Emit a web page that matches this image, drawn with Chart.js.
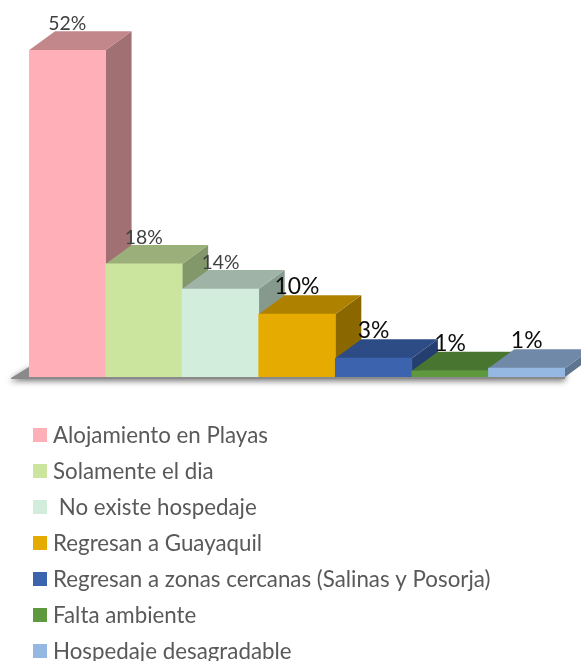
<!DOCTYPE html>
<html>
<head>
<meta charset="utf-8">
<script src="https://cdn.jsdelivr.net/npm/chart.js@4.4.1/dist/chart.umd.min.js"></script>
<style>
  html, body { margin: 0; padding: 0; background: #fff; }
  #wrap { width: 581px; height: 661px; }
</style>
</head>
<body>
<div id="wrap"><canvas id="c" width="581" height="661"></canvas></div>
<script>
const categories = [
  "Alojamiento en Playas",
  "Solamente el dia",
  " No existe hospedaje",
  "Regresan a Guayaquil",
  "Regresan a zonas cercanas (Salinas y Posorja)",
  "Falta ambiente",
  "Hospedaje desagradable"
];
const values = [52, 18, 14, 10, 3, 1.0, 1.4];
const valueLabels = ["52%", "18%", "14%", "10%", "3%", "1%", "1%"];

const frontColors = ["#FFAFB7", "#CBE59F", "#D2EDDC", "#E5AB00", "#3B63AE", "#5E9A3D", "#95B8E2"];
const topColors   = ["#C2878B", "#9AAF79", "#9FB3A7", "#AE8200", "#2D4C85", "#487631", "#7189A9"];
const sideColors  = ["#A07072", "#82976A", "#86998D", "#8B6700", "#243F6F", "#3B6228", "#5E7590"];
const labelColors = ["#404040", "#404040", "#404040", "#0d0d0d", "#0d0d0d", "#0d0d0d", "#0d0d0d"];
const labelLarge  = [false, false, false, true, true, true, true];

const DX = 26, DY = 19;
const FONT = 'Lato, "Open Sans", sans-serif';

function fitFont(ctx, text, targetWidth) {
  ctx.font = '20px ' + FONT;
  const w = ctx.measureText(text).width;
  return 20 * targetWidth / w;
}

const bars3d = {
  id: 'bars3d',
  beforeDatasetsDraw(chart) {
    const ctx = chart.ctx;
    const els = chart.getDatasetMeta(0).data;
    const base = els[0].base;
    const left = els[0].x - els[0].width / 2;
    const right = els[els.length - 1].x + els[els.length - 1].width / 2;
    ctx.save();
    ctx.shadowColor = 'rgba(0,0,0,0.55)';
    ctx.shadowBlur = 6;
    ctx.shadowOffsetY = 2;
    ctx.fillStyle = '#8a8a8a';
    ctx.beginPath();
    ctx.moveTo(left - 18, base + 1);
    ctx.lineTo(left, base - 10);
    ctx.lineTo(right, base - 10);
    ctx.lineTo(right, base + 2);
    ctx.lineTo(left - 18, base + 2);
    ctx.closePath();
    ctx.fill();
    ctx.restore();
    els.forEach((el, i) => {
      const L = el.x - el.width / 2, R = el.x + el.width / 2;
      const T = el.y, B = el.base;
      ctx.save();
      ctx.fillStyle = sideColors[i];
      ctx.beginPath();
      ctx.moveTo(R, T); ctx.lineTo(R + DX, T - DY); ctx.lineTo(R + DX, B - DY); ctx.lineTo(R, B);
      ctx.closePath(); ctx.fill();
      ctx.fillStyle = topColors[i];
      ctx.beginPath();
      ctx.moveTo(L, T); ctx.lineTo(L + DX, T - DY); ctx.lineTo(R + DX, T - DY); ctx.lineTo(R, T);
      ctx.closePath(); ctx.fill();
      ctx.restore();
    });
  },
  afterDatasetsDraw(chart) {
    const ctx = chart.ctx;
    const els = chart.getDatasetMeta(0).data;
    const small = fitFont(ctx, "18%", 38);
    const large = fitFont(ctx, "10%", 45);
    ctx.save();
    ctx.textAlign = 'center';
    ctx.textBaseline = 'alphabetic';
    els.forEach((el, i) => {
      ctx.font = (labelLarge[i] ? large : small).toFixed(2) + 'px ' + FONT;
      ctx.fillStyle = labelColors[i];
      ctx.fillText(valueLabels[i], el.x, el.y - DY - 1);
    });
    ctx.restore();
  },
  afterDraw(chart) {
    const ctx = chart.ctx;
    const size = fitFont(ctx, categories[0], 215);
    ctx.save();
    ctx.font = size.toFixed(2) + 'px ' + FONT;
    ctx.textBaseline = 'middle';
    ctx.textAlign = 'left';
    const y0 = chart.chartArea.bottom + 58;
    categories.forEach((c, i) => {
      const yc = y0 + i * 36;
      ctx.fillStyle = frontColors[i];
      ctx.fillRect(33, yc - 7, 14, 14);
      ctx.fillStyle = '#595959';
      ctx.fillText(c, 53, yc + 1);
    });
    ctx.restore();
  }
};

new Chart(document.getElementById('c'), {
  type: 'bar',
  data: {
    labels: categories,
    datasets: [{
      data: values,
      backgroundColor: frontColors,
      borderWidth: 0,
      barPercentage: 1,
      categoryPercentage: 1
    }]
  },
  options: {
    responsive: false,
    devicePixelRatio: 1,
    animation: false,
    layout: { padding: { left: 29, right: 16, top: 0, bottom: 284 } },
    scales: {
      x: { display: false },
      y: { display: false, min: 0, max: 60 }
    },
    plugins: {
      legend: { display: false },
      tooltip: { enabled: false }
    }
  },
  plugins: [bars3d]
});
</script>
</body>
</html>
